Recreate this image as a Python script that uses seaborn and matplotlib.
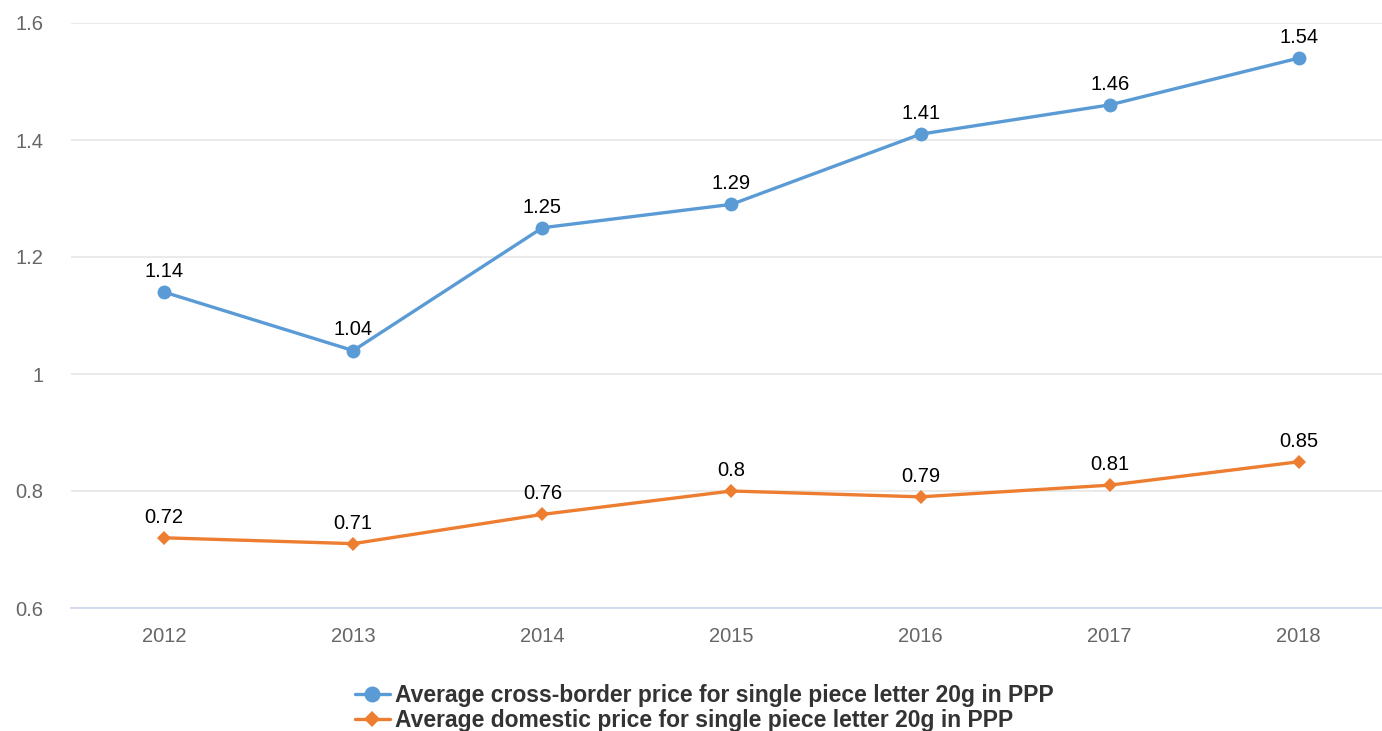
import matplotlib
matplotlib.use("Agg")
import matplotlib.pyplot as plt
import seaborn as sns
import pandas as pd

years = ["2012", "2013", "2014", "2015", "2016", "2017", "2018"]
cross_border = [1.14, 1.04, 1.25, 1.29, 1.41, 1.46, 1.54]
domestic = [0.72, 0.71, 0.76, 0.80, 0.79, 0.81, 0.85]
series_names = [
    "Average cross-border price for single piece letter 20g in PPP",
    "Average domestic price for single piece letter 20g in PPP",
]
yticks = [0.6, 0.8, 1.0, 1.2, 1.4, 1.6]
ytick_labels = ["0.6", "0.8", "1", "1.2", "1.4", "1.6"]

colors = ["#5B9BD5", "#ED7D31"]
markers = ["o", "D"]
marker_sizes = [10, 7]

sns.set_theme(style="white")
plt.rcParams["font.family"] = ["Liberation Sans", "DejaVu Sans"]

df = pd.DataFrame({
    "year": years * 2,
    "x": list(range(len(years))) * 2,
    "value": cross_border + domestic,
    "series": [series_names[0]] * len(years) + [series_names[1]] * len(years),
})

fig = plt.figure(figsize=(13.82, 7.31), dpi=100)
ax = fig.add_axes([71 / 1382, (731 - 608) / 731, (1382 - 71) / 1382, 585 / 731])

for name, c, m, ms in zip(series_names, colors, markers, marker_sizes):
    sub = df[df["series"] == name]
    sns.lineplot(data=sub, x="x", y="value", ax=ax, color=c, linewidth=2.4,
                 marker=m, markersize=ms, markeredgewidth=0, label=name, zorder=3)
    for xi, v in zip(sub["x"], sub["value"]):
        ax.annotate(f"{v:g}", (xi, v), xytext=(0, 8), textcoords="offset points",
                    ha="center", va="bottom", fontsize=14.5, color="#000000", zorder=4)

ax.set_xlim(-0.4925, 6.44)
ax.set_ylim(0.6, 1.6)
ax.set_yticks(yticks)
ax.set_yticklabels(ytick_labels)
ax.set_xticks(range(len(years)))
ax.set_xticklabels(years)
ax.set_xlabel("")
ax.set_ylabel("")
ax.tick_params(axis="both", length=0, labelsize=14.5, labelcolor="#666666")
ax.tick_params(axis="y", pad=20)
ax.tick_params(axis="x", pad=14)

ax.grid(axis="y", color="#e6e6e6", linewidth=1.2, zorder=0)
ax.grid(axis="x", visible=False)
for s in ["top", "right", "left"]:
    ax.spines[s].set_visible(False)
ax.spines["bottom"].set_color("#ccd6eb")
ax.spines["bottom"].set_linewidth(1.2)
ax.spines["bottom"].set_zorder(1)

leg = ax.legend(loc="upper center", bbox_to_anchor=(0.4833, -0.115), ncol=1, frameon=False,
                prop={"weight": "bold", "size": 16.5}, handlelength=1.5, handletextpad=0.25,
                labelspacing=0.05, borderaxespad=0, markerscale=1.15)
for t in leg.get_texts():
    t.set_color("#333333")

fig.savefig("out.png", dpi=100)
